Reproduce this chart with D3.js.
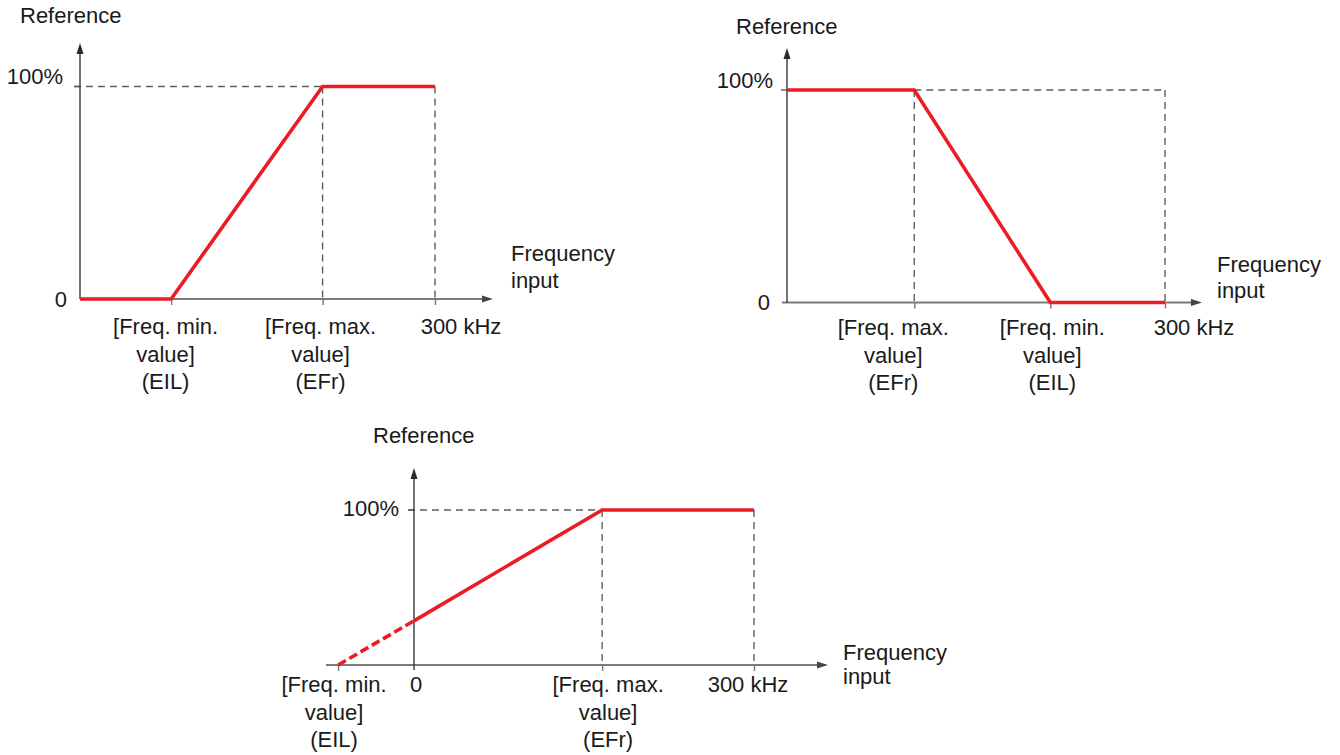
<!DOCTYPE html>
<html><head><meta charset="utf-8">
<script src="https://cdn.jsdelivr.net/npm/d3@7"></script>
<style>
html,body{margin:0;padding:0;background:#fff;}
svg{display:block;font-family:"Liberation Sans",Arial,Helvetica,sans-serif;}
</style></head><body>
<svg id="c" width="1340" height="755"></svg>
<script>
// ---------------- data (frequency in kHz, reference in %) ----------------
const yAxisTitle = "Reference";
const xAxisTitle = ["Frequency", "input"];

// Panel A : reference rises from [Freq. min.] to [Freq. max.]
const aRefTicks = [0, 100];
const aRefLabels = ["0", "100%"];
const aFreqTicks = [77, 205, 300];
const aFreqLabels = [["[Freq. min.", "value]", "(EIL)"], ["[Freq. max.", "value]", "(EFr)"], ["300 kHz"]];
const aCurveX = [0, 77, 205, 300];
const aCurveY = [0, 0, 100, 100];

// Panel B : reference falls from [Freq. max.] to [Freq. min.]
const bRefTicks = [0, 100];
const bRefLabels = ["0", "100%"];
const bFreqTicks = [101, 209, 300];
const bFreqLabels = [["[Freq. max.", "value]", "(EFr)"], ["[Freq. min.", "value]", "(EIL)"], ["300 kHz"]];
const bCurveX = [0, 101, 209, 300];
const bCurveY = [100, 100, 0, 0];

// Panel C : negative [Freq. min.]
const cRefTicks = [100];
const cRefLabels = ["100%"];
const cFreqTicks = [-67, 0, 166, 300];
const cFreqLabels = [["[Freq. min.", "value]", "(EIL)"], ["0"], ["[Freq. max.", "value]", "(EFr)"], ["300 kHz"]];
const cExtrapX = [-67, 0];
const cExtrapY = [0, 28.5];
const cCurveX = [0, 166, 300];
const cCurveY = [28.5, 100, 100];

// ---------------- layout / style ----------------
const RED = "#ec1c24";
const FONT = 22;
const LINE_H = 27.5;

const panels = [
  { refTicks: aRefTicks, refLabels: aRefLabels, freqTicks: aFreqTicks, freqLabels: aFreqLabels,
    curves: [{x: aCurveX, y: aCurveY, dashed: false}],
    guidesH: [[0, 205]], guidesV: [205, 300],
    xRange: [80, 435], yRange: [299, 86.5], xAxisFrom: 80, xAxisTo: 493, yAxisTop: 43, yAxisBottom: 299,
    refLabelPos: [{right: 67, base: 307}, {right: 63, base: 84}],
    tickLabelDx: [-5.5, -2, 26], tickLabelBase: 334,
    yTitle: {x: 20, y: 23}, xTitle: {x: 511, y: [261, 288]} },
  { refTicks: bRefTicks, refLabels: bRefLabels, freqTicks: bFreqTicks, freqLabels: bFreqLabels,
    curves: [{x: bCurveX, y: bCurveY, dashed: false}],
    guidesH: [[101, 300]], guidesV: [101, 300],
    xRange: [787, 1165], yRange: [302.5, 90], xAxisFrom: 782, xAxisTo: 1202, yAxisTop: 48, yAxisBottom: 302.5,
    refLabelPos: [{right: 770, base: 310}, {right: 773, base: 88}],
    tickLabelDx: [-21, 2, 29], tickLabelBase: 335,
    yTitle: {x: 736, y: 34}, xTitle: {x: 1217, y: [272, 298]} },
  { refTicks: cRefTicks, refLabels: cRefLabels, freqTicks: cFreqTicks, freqLabels: cFreqLabels,
    curves: [{x: cExtrapX, y: cExtrapY, dashed: true}, {x: cCurveX, y: cCurveY, dashed: false}],
    guidesH: [[0, 166]], guidesV: [166, 300],
    xRange: [414, 754], yRange: [665, 510], xAxisFrom: 326, xAxisTo: 828, yAxisTop: 468, yAxisBottom: 670,
    refLabelPos: [{right: 399, base: 516}],
    tickLabelDx: [-4, 2, 6, -6], tickLabelBase: 692,
    yTitle: {x: 373, y: 443}, xTitle: {x: 843, y: [660, 684]} }
];

const svg = d3.select("#c");
const GUIDE = "#5e5e5e";

panels.forEach(p => {
  const x = d3.scaleLinear().domain([0, 300]).range(p.xRange);
  const y = d3.scaleLinear().domain([0, 100]).range(p.yRange);
  const g = svg.append("g");
  const x0 = x(0), y0 = y(0);

  // dashed guide lines
  p.guidesH.forEach(([a, b]) => {
    g.append("line").attr("x1", x(a) - (a === 0 ? 6 : 0)).attr("x2", x(b))
      .attr("y1", y(100)).attr("y2", y(100))
      .attr("stroke", GUIDE).attr("stroke-width", 1.4).attr("stroke-dasharray", "7,5");
  });
  p.guidesV.forEach(v => {
    g.append("line").attr("x1", x(v)).attr("x2", x(v))
      .attr("y1", y(100)).attr("y2", y0)
      .attr("stroke", GUIDE).attr("stroke-width", 1.4).attr("stroke-dasharray", "7,5");
  });
  // 100% tick stub on y axis
  g.append("line").attr("x1", x0 - 6).attr("x2", x0).attr("y1", y(100)).attr("y2", y(100))
    .attr("stroke", GUIDE).attr("stroke-width", 1.4);

  // x axis tick marks via d3 axis
  const ax = d3.axisBottom(x).tickValues(p.freqTicks.filter(v => v !== 0))
    .tickSize(6).tickSizeOuter(0).tickFormat("");
  const axG = g.append("g").attr("transform", `translate(0,${y0})`).call(ax);
  axG.select(".domain").remove();
  axG.selectAll(".tick line").attr("stroke", "#777").attr("stroke-width", 1.4);

  // x axis line + arrow
  g.append("line").attr("x1", p.xAxisFrom).attr("x2", p.xAxisTo - 9).attr("y1", y0).attr("y2", y0)
    .attr("stroke", "#7a7a7a").attr("stroke-width", 2);
  g.append("path").attr("d", `M${p.xAxisTo},${y0} L${p.xAxisTo - 11},${y0 - 3.5} L${p.xAxisTo - 11},${y0 + 3.5} Z`)
    .attr("fill", "#444");
  // y axis line + arrow
  g.append("line").attr("x1", x0).attr("x2", x0).attr("y1", p.yAxisBottom).attr("y2", p.yAxisTop + 9)
    .attr("stroke", "#2a2a2a").attr("stroke-width", 1.3);
  g.append("path").attr("d", `M${x0},${p.yAxisTop} L${x0 - 3.5},${p.yAxisTop + 11} L${x0 + 3.5},${p.yAxisTop + 11} Z`)
    .attr("fill", "#2a2a2a");

  // curves
  const line = d3.line().x(d => x(d[0])).y(d => y(d[1]));
  p.curves.forEach(c => {
    const pts = c.x.map((v, i) => [v, c.y[i]]);
    g.append("path").attr("d", line(pts)).attr("fill", "none")
      .attr("stroke", RED).attr("stroke-width", 3.6)
      .attr("stroke-linejoin", "miter")
      .attr("stroke-dasharray", c.dashed ? "9,4" : null);
  });

  // reference (y) labels
  p.refLabels.forEach((t, i) => {
    g.append("text").attr("x", p.refLabelPos[i].right).attr("y", p.refLabelPos[i].base)
      .attr("text-anchor", "end").attr("font-size", FONT).attr("fill", "#1a1a1a").text(t);
  });

  // frequency tick labels
  p.freqLabels.forEach((lines, i) => {
    const tx = g.append("text").attr("text-anchor", "middle").attr("font-size", FONT).attr("fill", "#1a1a1a");
    lines.forEach((ln, j) => {
      tx.append("tspan").attr("x", x(p.freqTicks[i]) + p.tickLabelDx[i])
        .attr("y", p.tickLabelBase + j * LINE_H).text(ln);
    });
  });

  // axis titles
  g.append("text").attr("x", p.yTitle.x).attr("y", p.yTitle.y).attr("font-size", FONT)
    .attr("fill", "#1a1a1a").text(yAxisTitle);
  xAxisTitle.forEach((t, j) => {
    g.append("text").attr("x", p.xTitle.x).attr("y", p.xTitle.y[j]).attr("font-size", FONT)
      .attr("fill", "#1a1a1a").text(t);
  });
});
</script>
</body></html>
